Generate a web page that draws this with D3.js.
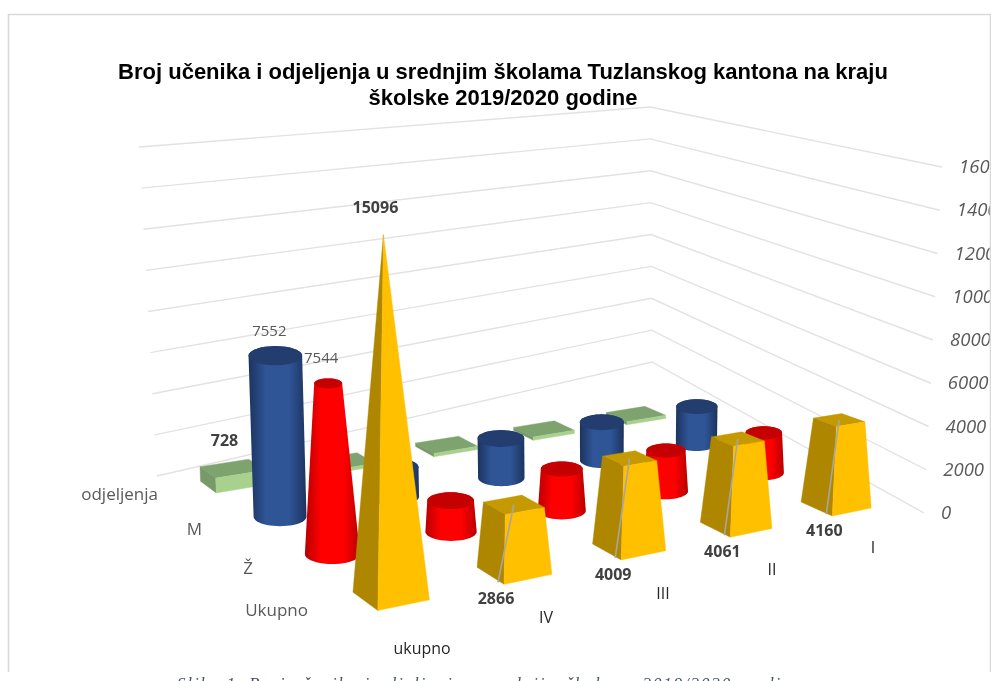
<!DOCTYPE html>
<html><head><meta charset="utf-8">
<script src="https://cdn.jsdelivr.net/npm/d3@7"></script>
<style>html,body{margin:0;padding:0;background:#fff;overflow:hidden}svg{display:block;filter:blur(0.35px)}</style>
</head><body><svg id="c" width="991" height="681"></svg>
<script>
const titleLines = ["Broj učenika i odjeljenja u srednjim školama Tuzlanskog kantona na kraju","školske 2019/2020 godine"];
const captionText = "Slika 1. Broj učenika i odjeljenja u srednjim školama 2019/2020. godine";
const categories = ["ukupno","IV","III","II","I"];
const seriesNames = ["odjeljenja","M","Ž","Ukupno"];
const odjeljenja = [728,171,184,185,188];
const muski = [7552,1440,2010,2030,2072];
const zenski = [7544,1426,1999,2031,2088];
const ukupno = [15096,2866,4009,4061,4160];
const ticks = [0,2000,4000,6000,8000,10000,12000,14000,16000];

const svg = d3.select("#c");
const catS = d3.scalePoint().domain(categories).range([0,1]);
const serS = d3.scalePoint().domain(seriesNames).range([0,1]);
const valS = d3.scaleLinear().domain([0,16000]).range([0,1]);
const maxV = d3.max(ukupno);

function homography(p){
  const [p0,p1,p2,p3]=p;
  const dx1=p1[0]-p2[0],dx2=p3[0]-p2[0],dx3=p0[0]-p1[0]+p2[0]-p3[0];
  const dy1=p1[1]-p2[1],dy2=p3[1]-p2[1],dy3=p0[1]-p1[1]+p2[1]-p3[1];
  const det=dx1*dy2-dx2*dy1;
  const g=(dx3*dy2-dx2*dy3)/det,h=(dx1*dy3-dx3*dy1)/det;
  const a=p1[0]-p0[0]+g*p1[0],b=p3[0]-p0[0]+h*p3[0],c=p0[0];
  const d=p1[1]-p0[1]+g*p1[1],e=p3[1]-p0[1]+h*p3[1],f=p0[1];
  return (s,t)=>{const w=g*s+h*t+1;return [(a*s+b*t+c)/w,(d*s+e*t+f)/w];};
}
// view: screen place of the plot box; s runs along the categories, t along the series
const cellFloor = homography([[233,483],[636,417],[836,505],[391,596]]);
// full-scale rise (x, y) at the four corner cells of the floor
const rise = [[-11,-320],[-1,-264],[12,-327],[-8,-383]];
function P(s,t,v){
  const a=cellFloor(s,t),k=valS(v);
  const rx=(1-s)*(1-t)*rise[0][0]+s*(1-t)*rise[1][0]+s*t*rise[2][0]+(1-s)*t*rise[3][0];
  const ry=(1-s)*(1-t)*rise[0][1]+s*(1-t)*rise[1][1]+s*t*rise[2][1]+(1-s)*t*rise[3][1];
  return [a[0]+rx*k,a[1]+ry*k];
}
// walls of the box: left, back and right vertical edges
const wallY = v => [[157,476],[652,362],[924,513]].map((p,i)=>{
  const q=[[139,147],[650,107],[942,167]][i],k=valS(v);
  return [p[0]+(q[0]-p[0])*k,p[1]+(q[1]-p[1])*k];
});
const line = d3.line();
const closed = pts => line(pts)+"Z";

const defs=svg.append("defs");
defs.append("clipPath").attr("id","edge").append("rect").attr("width",989.6).attr("height",681);

// frame
svg.append("path").attr("d","M8.5,672V14.5H990.5V672").attr("fill","none").attr("stroke","#d9d9d9").attr("stroke-width",1.6);

// title
svg.append("g").selectAll("text").data(titleLines).join("text")
  .attr("x",503).attr("y",(d,i)=>79+i*26).attr("text-anchor","middle")
  .attr("font-family","Liberation Sans").attr("font-weight","bold").attr("font-size",22).attr("fill","#000").text(d=>d);

// gridlines on the two walls
svg.append("g").selectAll("path").data(ticks).join("path")
  .attr("d",v=>line(wallY(v))).attr("fill","none").attr("stroke","#e2e2e2").attr("stroke-width",1.4);
svg.append("g").attr("clip-path","url(#edge)").selectAll("text").data(ticks).join("text")
  .attr("x",v=>wallY(v)[2][0]+17).attr("y",v=>wallY(v)[2][1]+6).attr("font-family","Open Sans").attr("font-style","italic")
  .attr("font-size",18.5).attr("fill","#595959").text(v=>v);

function grad(id,edge,mid){
  const g=defs.append("linearGradient").attr("id",id);
  [[0,edge],[.3,mid],[.5,mid],[.7,mid],[1,edge]].forEach(s=>g.append("stop").attr("offset",s[0]).attr("stop-color",s[1]));
}
grad("blueG","#1c335e","#2f5597");
grad("redG","#b80000","#ff0000");

const marks=svg.append("g");
const cx=i=>catS(categories[i]), cy=j=>serS(seriesNames[j]);

function box(i,j,v,hs,ht,taper,cTop,cLeft,cFront){
  const s=cx(i),t=cy(j),k=taper?1-v/maxV:1;
  const bLF=P(s-hs,t+ht,0),bRF=P(s+hs,t+ht,0),bLB=P(s-hs,t-ht,0);
  const tLF=P(s-hs*k,t+ht*k,v),tRF=P(s+hs*k,t+ht*k,v),tLB=P(s-hs*k,t-ht*k,v),tRB=P(s+hs*k,t-ht*k,v);
  const g=marks.append("g");
  g.append("path").attr("d",closed([tLB,tRB,tRF,tLF])).attr("fill",cTop).attr("stroke",cTop).attr("stroke-width",.4);
  g.append("path").attr("d",closed([bLB,bLF,tLF,tLB])).attr("fill",cLeft).attr("stroke",cLeft).attr("stroke-width",.4);
  g.append("path").attr("d",closed([bLF,bRF,tRF,tLF])).attr("fill",cFront).attr("stroke",cFront).attr("stroke-width",.4);
}
// a level circle seen from above: an upright ellipse around the projected centre
function ring(s,t,hs,v){
  const c=P(s,t,v),r=Math.abs(P(s+hs,t,v)[0]-P(s-hs,t,v)[0])/2;
  return d3.range(48).map(a=>{const q=a/48*2*Math.PI;return [c[0]+r*Math.cos(q),c[1]+r*ELLIPSE*Math.sin(q)];});
}
const ELLIPSE=.36;
function round(i,j,v,hs,taper,fill,cTop){
  const s=cx(i),t=cy(j),k=taper?1-v/maxV:1;
  const base=ring(s,t,hs,0),top=ring(s,t,hs*k,v);
  marks.append("path").attr("d",closed(d3.polygonHull(base.concat(top)))).attr("fill",`url(#${fill})`);
  marks.append("path").attr("d",closed(top)).attr("fill",cTop);
}
const PL={hs:.054,ht:.06}, CY={hs:.056}, YE={hs:.05,ht:.068};
odjeljenja.forEach((v,i)=>box(i,0,v,PL.hs,PL.ht,false,"#7fa36f","#789a68","#a9d18e"));
muski.forEach((v,i)=>round(i,1,v,CY.hs,false,"blueG","#223d6e"));
zenski.forEach((v,i)=>round(i,2,v,CY.hs,true,"redG","#c40000"));
ukupno.forEach((v,i)=>box(i,3,v,YE.hs,YE.ht,true,"#c49a00","#ae8600","#ffc000"));

// leader lines for the ukupno series
ukupno.forEach((v,i)=>{ if(i===0) return;
  const s=cx(i),t=cy(3),a=P(s,t,v),b=P(s-YE.hs,t+YE.ht,0);
  marks.append("line").attr("x1",a[0]).attr("y1",a[1]).attr("x2",b[0]-6).attr("y2",b[1]-2).attr("stroke","#a6a6a6").attr("stroke-width",1.6);
});

// data labels
function label(p,dx,dy,txt,bold){
  svg.append("text").attr("x",p[0]+dx).attr("y",p[1]+dy).attr("text-anchor","middle").attr("dominant-baseline","central")
   .attr("font-family","Open Sans").attr("font-weight",bold?"bold":"normal").attr("font-size",bold?16:15).attr("fill",bold?"#404040":"#595959").text(txt);
}
label(P(cx(0),cy(0),odjeljenja[0]),-8,-28,odjeljenja[0],true);
label(P(cx(0),cy(1),muski[0]),-6,-26,muski[0],false);
label(P(cx(0),cy(2),zenski[0]),-7,-26,zenski[0],false);
label(P(cx(0),cy(3),ukupno[0]),-8,-28,ukupno[0],true);
ukupno.forEach((v,i)=>{ if(i===0) return;
  label(P(cx(i)-YE.hs,cy(3)+YE.ht,0),-8,14,v,true);
});

// axis labels along the two front edges of the floor
const serLabelAt=[[158,493],[202,528],[253,567],[308,609]];
const catLabelAt=[[422,648],[546,617],[663,593],[772,569],[873,547]];
svg.append("g").selectAll("text").data(seriesNames).join("text")
  .attr("x",(d,i)=>serLabelAt[i][0]).attr("y",(d,i)=>serLabelAt[i][1]).attr("dominant-baseline","central")
  .attr("text-anchor","end").attr("font-family","Open Sans").attr("font-size",17).attr("fill","#595959").text(d=>d);
svg.append("g").selectAll("text").data(categories).join("text")
  .attr("x",(d,i)=>catLabelAt[i][0]).attr("y",(d,i)=>catLabelAt[i][1]).attr("dominant-baseline","central")
  .attr("text-anchor","middle").attr("font-family","Open Sans").attr("font-size",16).attr("fill","#262626")
  .each(function(d){ if(d==="ukupno") d3.select(this).attr("textLength",57).attr("lengthAdjust","spacingAndGlyphs"); })
  .text(d=>d);

// caption (cut off by the bottom edge of the picture)
svg.append("text").attr("x",177).attr("y",689).attr("font-family","Liberation Serif").attr("font-style","italic")
  .attr("font-size",17).attr("textLength",623).attr("fill","#44546a").text(captionText);
</script></body></html>
